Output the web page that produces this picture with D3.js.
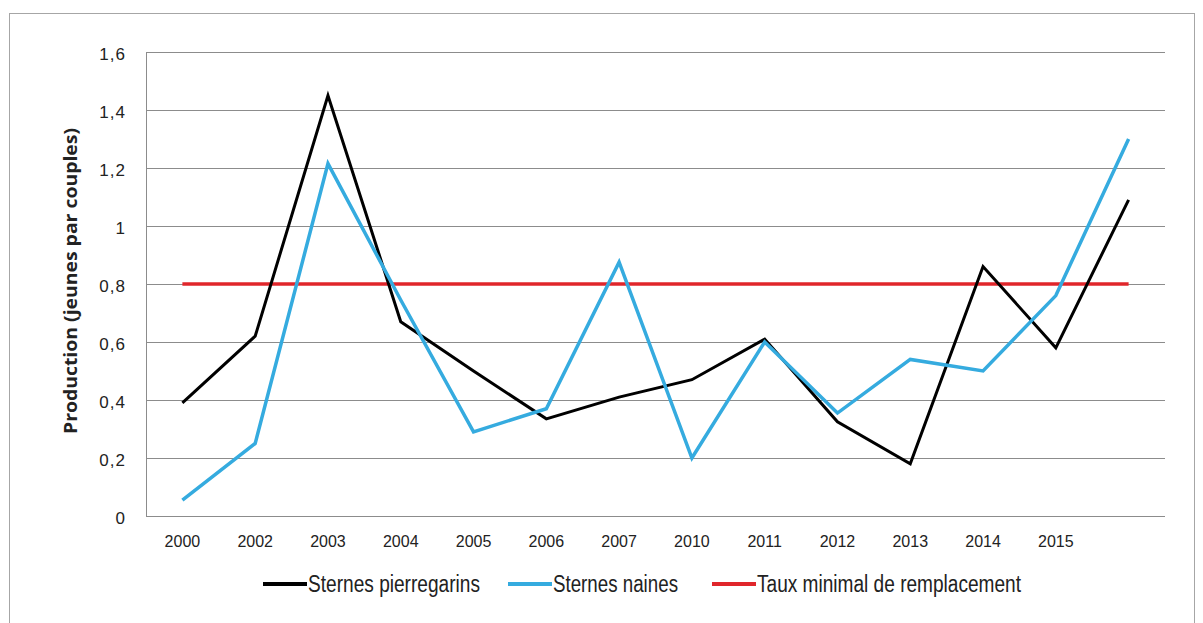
<html>
<head>
<meta charset="utf-8">
<script src="https://d3js.org/d3.v7.min.js"></script>
<style>
  body { margin: 0; background: #fff; }
  text { font-family: "Liberation Sans", Arial, sans-serif; fill: #222; }
</style>
</head>
<body>
<div id="chart"></div>
<script>
// categories (last one has no label)
var years = ["2000", "2002", "2003", "2004", "2005", "2006", "2007", "2010", "2011", "2012", "2013", "2014", "2015", ""];
var pierregarins = [0.39, 0.62, 1.45, 0.67, 0.50, 0.335, 0.41, 0.47, 0.61, 0.325, 0.18, 0.86, 0.58, 1.09];
var naines = [0.055, 0.25, 1.215, 0.745, 0.29, 0.37, 0.875, 0.2, 0.6, 0.355, 0.54, 0.5, 0.76, 1.3];
var tauxMinimal = [0.8, 0.8, 0.8, 0.8, 0.8, 0.8, 0.8, 0.8, 0.8, 0.8, 0.8, 0.8, 0.8, 0.8];
var yTicks = [0, 0.2, 0.4, 0.6, 0.8, 1, 1.2, 1.4, 1.6];

var width = 1203, height = 623;
var plotLeft = 146, plotRight = 1165, plotTop = 52, plotBottom = 516;

var svg = d3.select("#chart").append("svg")
  .attr("width", width)
  .attr("height", height);

// outer frame
svg.append("rect")
  .attr("x", 9.5).attr("y", 13.5)
  .attr("width", 1185).attr("height", 620)
  .attr("fill", "none").attr("stroke", "#a6a6a6");

var x = d3.scaleBand().domain(d3.range(years.length)).range([plotLeft, plotRight]);
var y = d3.scaleLinear().domain([0, 1.6]).range([plotBottom, plotTop]);

var fmt = function(d) { return String(d).replace(".", ","); };

// gridlines
svg.append("g").selectAll("line").data(yTicks).enter().append("line")
  .attr("x1", plotLeft).attr("x2", plotRight)
  .attr("y1", function(d) { return Math.round(y(d)) + 0.5; })
  .attr("y2", function(d) { return Math.round(y(d)) + 0.5; })
  .attr("stroke", "#8c8c8c").attr("stroke-width", 1);

// left axis line
svg.append("line")
  .attr("x1", plotLeft + 0.5).attr("x2", plotLeft + 0.5)
  .attr("y1", plotTop).attr("y2", plotBottom)
  .attr("stroke", "#8c8c8c");

// y tick labels
svg.append("g").selectAll("text").data(yTicks).enter().append("text")
  .attr("x", 126)
  .attr("y", function(d) { return y(d) + 8; })
  .attr("text-anchor", "end")
  .style("font-size", "17px")
  .style("letter-spacing", "1px")
  .text(fmt);

// x tick labels
svg.append("g").selectAll("text").data(years).enter().append("text")
  .attr("x", function(d, i) { return x(i) + x.bandwidth() / 2; })
  .attr("y", 547)
  .attr("text-anchor", "middle")
  .style("font-size", "16px")
  .text(function(d) { return d; });

// y axis title
svg.append("text")
  .attr("transform", "translate(77,281) rotate(-90)")
  .attr("text-anchor", "middle")
  .attr("textLength", 306)
  .attr("lengthAdjust", "spacingAndGlyphs")
  .style("font-family", "'Open Sans', 'DejaVu Sans', sans-serif")
  .style("font-weight", "bold")
  .style("font-size", "18px")
  .text("Production (jeunes par couples)");

var line = d3.line()
  .x(function(d, i) { return x(i) + x.bandwidth() / 2; })
  .y(function(d) { return y(d); });

var series = [
  { name: "Taux minimal de remplacement", values: tauxMinimal, color: "#e0262b", w: 3.5 },
  { name: "Sternes pierregarins", values: pierregarins, color: "#000000", w: 3 },
  { name: "Sternes naines", values: naines, color: "#35abdf", w: 3.5 }
];

svg.append("g").selectAll("path").data(series).enter().append("path")
  .attr("d", function(s) { return line(s.values); })
  .attr("fill", "none")
  .attr("stroke", function(s) { return s.color; })
  .attr("stroke-width", function(s) { return s.w; })
  .attr("stroke-linejoin", "miter");

// legend
var legendItems = [
  { name: "Sternes pierregarins", color: "#000000", x: 263, len: 172 },
  { name: "Sternes naines", color: "#35abdf", x: 508, len: 125 },
  { name: "Taux minimal de remplacement", color: "#e0262b", x: 712, len: 264 }
];
var lg = svg.append("g").selectAll("g").data(legendItems).enter().append("g")
  .attr("transform", function(d) { return "translate(" + d.x + ",584)"; });
lg.append("line")
  .attr("x1", 0).attr("x2", 44).attr("y1", 0).attr("y2", 0)
  .attr("stroke", function(d) { return d.color; })
  .attr("stroke-width", 4);
lg.append("text")
  .attr("x", 45).attr("y", 8)
  .attr("textLength", function(d) { return d.len; })
  .attr("lengthAdjust", "spacingAndGlyphs")
  .style("font-size", "23px")
  .text(function(d) { return d.name; });
</script>
</body>
</html>
